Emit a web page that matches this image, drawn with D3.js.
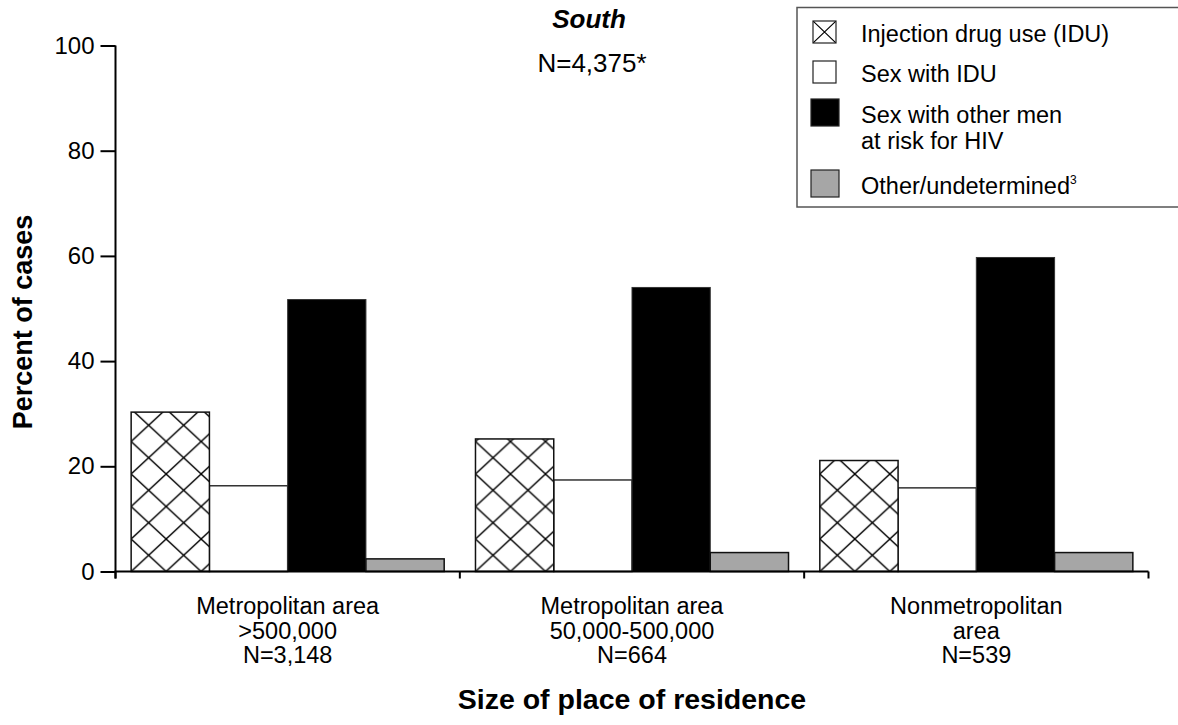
<!DOCTYPE html>
<html>
<head>
<meta charset="utf-8">
<script src="https://cdn.jsdelivr.net/npm/d3@7/dist/d3.min.js"></script>
<style>
  html, body { margin: 0; padding: 0; background: #fff; }
  svg { display: block; font-family: "Liberation Sans", Arial, sans-serif; }
</style>
</head>
<body>
<svg id="chart" width="1178" height="725"></svg>
<script>
// ---- data ----
const categories = ["metro_large", "metro_mid", "nonmetro"];
const categoryLabels = [
  ["Metropolitan area", ">500,000", "N=3,148"],
  ["Metropolitan area", "50,000-500,000", "N=664"],
  ["Nonmetropolitan", "area", "N=539"]
];
const seriesKeys = ["idu", "sexIdu", "msm", "other"];
const seriesNames = [["Injection drug use (IDU)"], ["Sex with IDU"], ["Sex with other men", "at risk for HIV"], ["Other/undetermined"]];
const iduValues = [30.3, 25.2, 21.1];
const sexIduValues = [16.3, 17.4, 15.9];
const msmValues = [51.7, 54.0, 59.7];
const otherValues = [2.4, 3.6, 3.6];
const yTicks = [0, 20, 40, 60, 80, 100];
const titleText = "South";
const subtitleText = "N=4,375*";
const yTitle = "Percent of cases";
const xTitle = "Size of place of residence";

const valuesBySeries = [iduValues, sexIduValues, msmValues, otherValues];

// ---- layout ----
const svg = d3.select("#chart");
const x0 = d3.scaleBand().domain(categories).range([115.5, 1148.5]).padding(0);
const x1 = d3.scaleBand().domain(seriesKeys).range([0, x0.bandwidth()]).paddingInner(0).paddingOuter(0.2);
const y = d3.scaleLinear().domain([0, 100]).range([571.5, 45.5]);

// hatch pattern
const defs = svg.append("defs");
const pat = defs.append("pattern").attr("id", "hatch")
  .attr("patternUnits", "userSpaceOnUse").attr("width", 35).attr("height", 32.5);
pat.append("rect").attr("width", 35).attr("height", 32.5).attr("fill", "#fff");
pat.append("path").attr("d", "M0,0L35,32.5M35,0L0,32.5M-1,31.5L1,33.5M34,-1L36,1")
  .attr("stroke", "#000").attr("stroke-width", 1.4).attr("fill", "none");
const legPat = defs.append("pattern").attr("id", "hatchLeg")
  .attr("patternUnits", "objectBoundingBox").attr("width", 1).attr("height", 1)
  .attr("patternContentUnits", "objectBoundingBox");
legPat.append("rect").attr("width", 1).attr("height", 1).attr("fill", "#fff");
legPat.append("path").attr("d", "M0,0L1,1M1,0L0,1").attr("stroke", "#000").attr("stroke-width", 0.05);

const fills = {idu: "url(#hatch)", sexIdu: "#fff", msm: "#000", other: "#a6a6a6"};
const strokes = {idu: "#111", sexIdu: "#333", msm: "#333", other: "#111"};
const strokeW = {idu: 1.5, sexIdu: 1.5, msm: 1, other: 1.5};

// bars
const groups = svg.append("g").selectAll("g.grp").data(categories).join("g")
  .attr("class", "grp").attr("transform", d => `translate(${x0(d)},0)`);
groups.each(function(cat, ci) {
  const g = d3.select(this);
  const order = ["sexIdu", "idu", "msm", "other"];
  order.forEach(k => {
    const si = seriesKeys.indexOf(k);
    const v = valuesBySeries[si][ci];
    const bg = g.append("g").attr("transform", `translate(${x1(k)},${y(0)})`);
    bg.append("rect")
      .attr("x", 0).attr("y", y(v) - y(0))
      .attr("width", x1.bandwidth()).attr("height", y(0) - y(v))
      .attr("fill", fills[k]).attr("stroke", strokes[k]).attr("stroke-width", strokeW[k]);
  });
});

// axes
const yAxis = d3.axisLeft(y).tickValues(yTicks).tickSize(15).tickPadding(6).tickFormat(d3.format("d"));
const yg = svg.append("g").attr("transform", "translate(115.5,0)").call(yAxis);
yg.select(".domain").attr("d", `M0,${y(100)}V${y(0) + 7}`).attr("stroke", "#000").attr("stroke-width", 2);
yg.selectAll(".tick line").attr("stroke", "#000").attr("stroke-width", 2);
yg.selectAll(".tick text").attr("font-size", 24).attr("fill", "#000").attr("font-family", "Liberation Sans, Arial, sans-serif");

const xBoundaries = categories.map(c => x0(c)).concat([x0.range()[1]]);
const xg = svg.append("g");
xg.append("line").attr("x1", x0.range()[0] - 1).attr("x2", x0.range()[1]).attr("y1", y(0)).attr("y2", y(0))
  .attr("stroke", "#000").attr("stroke-width", 2);
xg.selectAll("line.tk").data(xBoundaries).join("line").attr("class", "tk")
  .attr("x1", d => d).attr("x2", d => d).attr("y1", y(0)).attr("y2", y(0) + 7)
  .attr("stroke", "#000").attr("stroke-width", 2);

// category labels
const lab = svg.append("g").selectAll("text").data(categories).join("text")
  .attr("x", d => x0(d) + x0.bandwidth() / 2)
  .attr("y", 614)
  .attr("text-anchor", "middle").attr("font-size", 23.5).attr("fill", "#000");
lab.each(function(d, i) {
  d3.select(this).selectAll("tspan").data(categoryLabels[i]).join("tspan")
    .attr("x", x0(d) + x0.bandwidth() / 2)
    .attr("dy", (t, j) => j === 0 ? 0 : 24.7)
    .text(t => t);
});

// titles
svg.append("text").attr("x", 589).attr("y", 28).attr("text-anchor", "middle")
  .attr("font-size", 26).attr("font-weight", "bold").attr("font-style", "italic").text(titleText);
svg.append("text").attr("x", 592).attr("y", 72).attr("text-anchor", "middle")
  .attr("font-size", 26).text(subtitleText);
svg.append("text").attr("transform", "translate(32,322) rotate(-90)").attr("text-anchor", "middle")
  .attr("font-size", 27).attr("font-weight", "bold").text(yTitle);
svg.append("text").attr("x", 632).attr("y", 709).attr("text-anchor", "middle")
  .attr("font-size", 28.5).attr("font-weight", "bold").text(xTitle);

// legend
const leg = svg.append("g");
leg.append("rect").attr("x", 797).attr("y", 7.5).attr("width", 400).attr("height", 199.5)
  .attr("fill", "#fff").attr("stroke", "#555").attr("stroke-width", 1.5);
const legItems = [
  {key: "idu", box: [813, 21, 23, 22], base: 42},
  {key: "sexIdu", box: [813, 61, 23, 22], base: 82},
  {key: "msm", box: [811, 99, 28, 27], base: 123},
  {key: "other", box: [811, 170, 28, 27], base: 193.5}
];
legItems.forEach((it, i) => {
  const [bx, by, bw, bh] = it.box;
  leg.append("rect").attr("x", bx).attr("y", by).attr("width", bw).attr("height", bh)
    .attr("fill", it.key === "idu" ? "url(#hatchLeg)" : fills[it.key])
    .attr("stroke", "#222").attr("stroke-width", 1.2);
  const t = leg.append("text").attr("x", 861).attr("y", it.base).attr("font-size", 23.5).attr("fill", "#000");
  seriesNames[i].forEach((line, j) => {
    t.append("tspan").attr("x", 861).attr("dy", j === 0 ? 0 : 26).text(line);
  });
  if (it.key === "other") {
    t.append("tspan").attr("font-size", 12).attr("dy", -10).text("3");
  }
});
</script>
</body>
</html>
